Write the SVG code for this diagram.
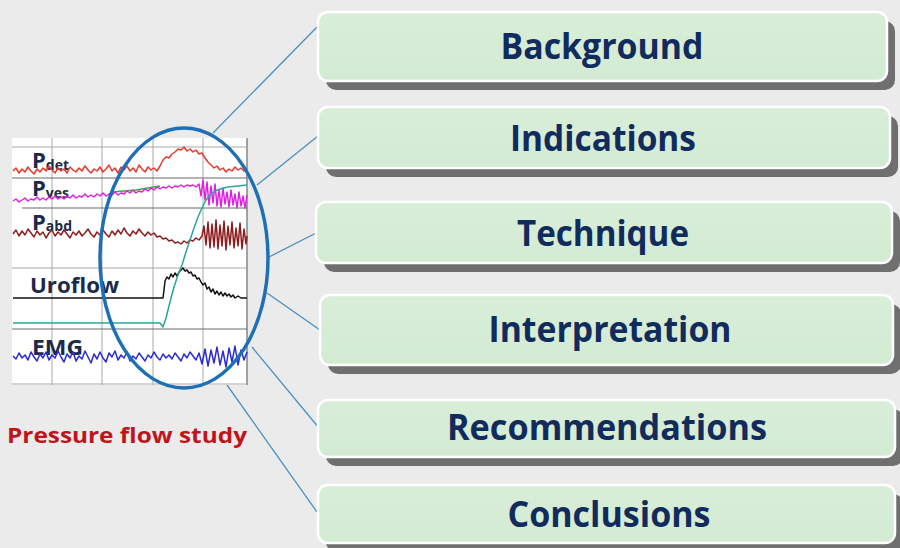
<svg xmlns="http://www.w3.org/2000/svg" width="900" height="548" viewBox="0 0 900 548">
<defs>
<linearGradient id="boxFill" x1="0" y1="0" x2="0" y2="1">
<stop offset="0" stop-color="#d8eed8"/>
<stop offset="1" stop-color="#d3ead3"/>
</linearGradient>
</defs>
<style>
.shadow{fill:#6f6f6f}
.box{fill:url(#boxFill);stroke:#ffffff;stroke-width:2.5}
.btxt{font-family:"Open Sans","Liberation Sans",sans-serif;font-weight:bold;font-size:36px;fill:#112b5c;text-anchor:middle}
.conn{stroke:#4a90c2;stroke-width:1.3;fill:none}
.grid{stroke:#a8a8a8;stroke-width:1;fill:none}
.gridd{stroke:#6a6a6a;stroke-width:1.2;fill:none}
.lbl{font-family:"Open Sans","Liberation Sans",sans-serif;font-weight:bold;font-size:22px;fill:#1b2a4a}
.sub{font-size:14px}
.tr{fill:none;stroke-width:1.5;stroke-linejoin:round}
</style>
<rect x="0" y="0" width="900" height="548" fill="#ebebeb"/>

<g id="connectors">
<line class="conn" x1="213" y1="133" x2="319" y2="25"/>
<line class="conn" x1="257" y1="185" x2="318" y2="136"/>
<line class="conn" x1="269" y1="257" x2="318" y2="232"/>
<line class="conn" x1="267" y1="293" x2="320" y2="330"/>
<line class="conn" x1="252" y1="347" x2="319" y2="428"/>
<line class="conn" x1="227" y1="385" x2="317" y2="512"/>
</g>

<g id="chart">
<rect x="12" y="138" width="235" height="247" fill="#ffffff"/>
<line class="grid" x1="52" y1="138" x2="52" y2="385"/>
<line class="grid" x1="102" y1="138" x2="102" y2="385"/>
<line class="grid" x1="153" y1="138" x2="153" y2="385"/>
<line class="grid" x1="203" y1="138" x2="203" y2="385"/>
<line class="gridd" x1="247" y1="138" x2="247" y2="385"/>
<line class="grid" x1="12" y1="147" x2="247" y2="147"/>
<line class="gridd" x1="12" y1="178" x2="247" y2="178"/>
<line class="gridd" x1="22" y1="208" x2="247" y2="208"/>
<line class="grid" x1="12" y1="268" x2="247" y2="268"/>
<line class="gridd" x1="12" y1="329" x2="247" y2="329"/>
<line class="grid" x1="12" y1="384" x2="247" y2="384"/>

<text class="lbl" x="32" y="168">P<tspan class="sub" dy="2">det</tspan></text>
<text class="lbl" x="32" y="196">P<tspan class="sub" dy="2">ves</tspan></text>
<text class="lbl" x="32" y="230">P<tspan class="sub" dy="1">abd</tspan></text>
<text class="lbl" x="30" y="293" font-size="23" textLength="89" lengthAdjust="spacingAndGlyphs">Uroflow</text>
<text class="lbl" x="32" y="355" font-size="23" textLength="51" lengthAdjust="spacingAndGlyphs">EMG</text>

<polyline class="tr" stroke="#e53a2e" points="13,171 16,168 19,173 22,169 25,172 28,167 31,171 34,174 37,169 40,172 43,168 46,171 49,166 52,170 55,173 58,168 61,171 64,169 67,173 70,167 73,170 76,172 79,168 82,171 85,166 88,170 91,173 94,169 97,171 100,167 103,172 106,169 109,165 112,171 115,168 118,173 121,167 124,170 127,166 130,171 133,168 136,172 139,165 142,169 145,172 148,167 151,170 154,168 157,171 160,166 163,160 166,157 169,158 172,154 175,152 178,149 181,150 184,147 187,151 190,149 193,152 196,150 199,154 202,153 205,158 208,162 211,165 214,168 217,166 220,170 223,168 226,172 229,169 232,171 235,167 238,170 241,168 244,171 247,169"/>
<polyline class="tr" stroke="#3aa83a" points="112,192 136,190 160,186"/>
<polyline class="tr" stroke="#e020e0" points="13,201 16,199 19,202 22,200 25,198 28,201 31,199 34,200 37,197 40,200 43,198 46,200 49,197 52,199 55,196 58,199 61,197 64,199 67,196 70,198 73,195 76,198 79,196 82,197 85,194 88,197 91,195 94,197 97,194 100,196 103,193 106,196 109,194 112,195 115,192 118,195 121,193 124,194 127,191 130,193 133,190 136,193 139,191 142,192 145,189 148,191 151,188 154,190 157,187 160,189 163,187 166,188 169,186 172,188 175,186 178,187 181,185 184,187 187,185 190,186 193,185 196,187 199,184 201,196 203,180 205,200 207,182 209,205 211,186 213,203 215,184 217,206 219,190 221,207 223,188 225,204 227,192 229,207 231,190 233,205 235,194 237,208 239,192 241,206 243,196 245,208 247,195"/>
<polyline class="tr" stroke="#8e1c1c" points="13,234 16,230 19,236 22,231 25,235 28,229 31,233 34,237 37,231 40,235 43,232 46,238 49,233 52,230 55,236 58,232 61,235 64,230 67,234 70,238 73,232 76,235 79,231 82,236 85,233 88,229 91,234 94,237 97,232 100,235 103,230 106,234 109,237 112,231 115,235 118,230 121,234 124,228 127,233 130,236 133,231 136,234 139,229 142,233 145,236 148,232 151,235 154,233 157,237 160,236 163,239 166,238 169,241 172,240 175,243 178,242 181,244 184,241 187,243 190,240 193,241 196,238 199,240 202,236 204,226 206,245 208,222 210,248 212,224 214,247 216,220 218,249 220,225 222,246 224,221 226,250 228,226 230,245 232,222 234,248 236,228 238,246 240,223 242,249 244,229 246,244 247,236"/>
<polyline class="tr" stroke="#111111" points="13,298 163,298 164,290 165,281 167,277 169,279 171,274 173,277 175,273 177,276 179,272 181,270 183,268 185,271 187,270 189,273 191,272 193,276 195,275 197,279 199,278 201,282 203,285 205,283 207,289 209,287 211,292 213,289 215,294 217,291 219,295 221,292 223,296 225,293 227,296 229,294 231,297 233,295 235,298 238,296 241,298 247,298"/>
<polyline class="tr" stroke="#2aa69a" points="13,323 160,323 163,327 166,318 170,302 174,287 178,275 182,265 186,252 190,240 194,228 198,217 202,208 206,200 210,195 215,191 220,189 228,187 238,186 247,185"/>
<polyline class="tr" stroke="#2b2bd4" points="13,356 16,359 19,353 22,358 25,355 28,360 31,352 34,357 37,361 40,354 43,358 46,352 49,360 52,355 55,358 58,351 61,357 64,362 67,354 70,358 73,352 76,361 79,356 82,359 85,351 88,357 91,363 94,354 97,359 100,352 103,358 106,362 109,353 112,357 115,351 118,360 121,355 124,358 127,352 130,361 133,356 136,359 139,353 142,357 145,361 148,355 151,358 154,352 157,357 160,360 163,354 166,358 169,355 172,359 175,353 178,357 181,361 184,354 187,358 190,352 193,356 196,360 199,353 202,364 205,349 208,366 211,350 214,363 217,347 220,365 223,351 226,367 229,348 232,362 235,346 238,365 241,350 244,360 247,352"/>

<ellipse cx="184" cy="258" rx="84" ry="130" fill="none" stroke="#1e6fb5" stroke-width="3.5"/>
<text x="7" y="443" font-family="'Open Sans','Liberation Sans',sans-serif" font-weight="bold" font-size="22" fill="#c0141c" textLength="240" lengthAdjust="spacingAndGlyphs">Pressure flow study</text>
</g>

<g id="node-background">
<rect class="shadow" x="326" y="21" width="569" height="69" rx="10"/>
<rect class="box" x="318" y="12" width="569" height="69" rx="10"/>
<text class="btxt" x="602" y="59" textLength="203" lengthAdjust="spacingAndGlyphs">Background</text>
</g>
<g id="node-indications">
<rect class="shadow" x="326" y="116" width="572" height="61" rx="10"/>
<rect class="box" x="318" y="107" width="572" height="61" rx="10"/>
<text class="btxt" x="603" y="151" textLength="186" lengthAdjust="spacingAndGlyphs">Indications</text>
</g>
<g id="node-technique">
<rect class="shadow" x="324" y="211" width="576" height="61" rx="10"/>
<rect class="box" x="316" y="202" width="576" height="61" rx="10"/>
<text class="btxt" x="603" y="246" textLength="172" lengthAdjust="spacingAndGlyphs">Technique</text>
</g>
<g id="node-interpretation">
<rect class="shadow" x="328" y="304" width="573" height="70" rx="10"/>
<rect class="box" x="320" y="295" width="573" height="70" rx="10"/>
<text class="btxt" x="610" y="342" textLength="243" lengthAdjust="spacingAndGlyphs">Interpretation</text>
</g>
<g id="node-recommendations">
<rect class="shadow" x="326" y="409" width="577" height="57" rx="10"/>
<rect class="box" x="318" y="400" width="577" height="57" rx="10"/>
<text class="btxt" x="607" y="440" textLength="320" lengthAdjust="spacingAndGlyphs">Recommendations</text>
</g>
<g id="node-conclusions">
<rect class="shadow" x="326" y="494" width="577" height="58" rx="10"/>
<rect class="box" x="318" y="485" width="577" height="58" rx="10"/>
<text class="btxt" x="609" y="527" textLength="203" lengthAdjust="spacingAndGlyphs">Conclusions</text>
</g>
</svg>
